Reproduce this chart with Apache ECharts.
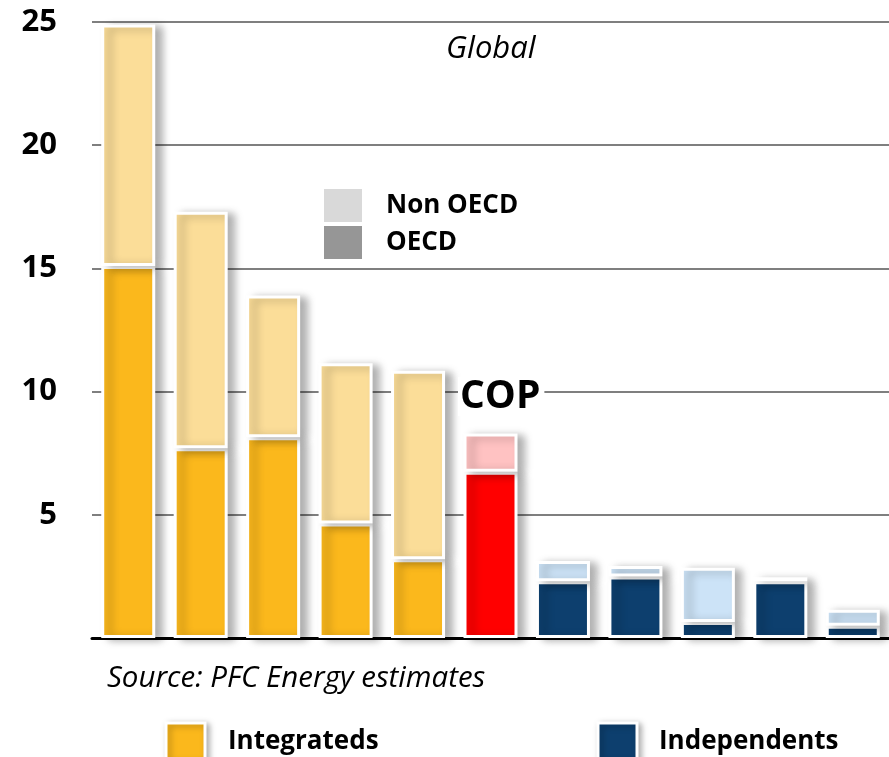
<!DOCTYPE html>
<html>
<head>
<meta charset="utf-8">
<script src="https://cdn.jsdelivr.net/npm/echarts@6/dist/echarts.min.js"></script>
<style>
  html, body { margin: 0; padding: 0; background: #fff; }
  #chart { width: 889px; height: 757px; }
</style>
</head>
<body>
<div id="chart"></div>
<script>
// companies, left to right (unnamed in the source picture)
var categories = ['1', '2', '3', '4', '5', 'COP', '7', '8', '9', '10', '11']
var groups = ['int', 'int', 'int', 'int', 'int', 'cop', 'ind', 'ind', 'ind', 'ind', 'ind']
var oecdValues = [15.1, 7.7, 8.15, 4.65, 3.2, 6.75, 2.3, 2.5, 0.65, 2.3, 0.5]
var nonOecdValues = [9.8, 9.6, 5.75, 6.5, 7.65, 1.55, 0.82, 0.42, 2.2, 0.17, 0.65]
var yTicks = [0, 5, 10, 15, 20, 25]

var darkColors = { int: '#fbb81c', cop: '#ff0000', ind: '#0d3f6e' }
var lightColors = { int: '#fbdd98', cop: '#ffc2c2', ind: '#cce3f7' }

var font = '"Open Sans", Lato, sans-serif'

var chart = echarts.init(document.getElementById('chart'))

function barStyle (color) {
  return {
    color: color,
    borderColor: '#fff',
    borderWidth: 3,
    shadowColor: 'rgba(0,0,0,0.3)',
    shadowBlur: 8,
    shadowOffsetX: 7,
    shadowOffsetY: 2
  }
}

function boxStyle (color) {
  return {
    fill: color,
    stroke: '#fff',
    lineWidth: 3,
    shadowColor: 'rgba(0,0,0,0.3)',
    shadowBlur: 6,
    shadowOffsetX: 3,
    shadowOffsetY: 2
  }
}

chart.setOption({
  animation: false,
  textStyle: { fontFamily: font },
  grid: {
    left: 92,
    right: 0,
    top: 22,
    bottom: 119
  },
  legend: {
    orient: 'vertical',
    left: 317,
    top: 182,
    itemWidth: 40,
    itemHeight: 35,
    itemGap: 0,
    icon: 'rect',
    textStyle: { fontFamily: font, fontWeight: 'bold', fontSize: 26, color: '#000', padding: [0, 0, 0, 18] },
    data: [
      { name: 'Non OECD', itemStyle: { color: '#d9d9d9', borderColor: '#fff', borderWidth: 2 } },
      { name: 'OECD', itemStyle: { color: '#969696', borderColor: '#fff', borderWidth: 2 } }
    ]
  },
  xAxis: {
    type: 'category',
    data: categories,
    axisLine: { lineStyle: { color: '#000', width: 3 } },
    axisTick: { show: false },
    axisLabel: { show: false }
  },
  yAxis: {
    type: 'value',
    min: yTicks[0],
    max: yTicks[yTicks.length - 1],
    interval: 5,
    axisLine: { show: false },
    axisTick: { show: false },
    axisLabel: {
      showMinLabel: false,
      margin: 35,
      fontFamily: font,
      fontWeight: 'bold',
      fontSize: 31,
      color: '#000'
    },
    splitLine: { lineStyle: { color: '#7f7f7f', width: 2 } }
  },
  graphic: [
    {
      type: 'text',
      left: 446,
      top: 34,
      style: { text: 'Global', font: 'italic 31px ' + font, fill: '#000' }
    },
    {
      type: 'text',
      left: 458,
      top: 377,
      z: 100,
      style: {
        text: 'COP',
        font: 'bold 39px ' + font,
        fill: '#000',
        backgroundColor: '#fff',
        padding: [0, 4, 0, 2]
      }
    },
    {
      type: 'text',
      left: 107,
      top: 664,
      style: { text: 'Source: PFC Energy estimates', font: 'italic 29.5px ' + font, fill: '#000' }
    },
    {
      type: 'rect',
      shape: { x: 166, y: 723, width: 39, height: 38 },
      style: boxStyle(darkColors.int)
    },
    {
      type: 'text',
      left: 228,
      top: 729,
      style: { text: 'Integrateds', font: 'bold 26px ' + font, fill: '#000' }
    },
    {
      type: 'rect',
      shape: { x: 598, y: 723, width: 39, height: 38 },
      style: boxStyle(darkColors.ind)
    },
    {
      type: 'text',
      left: 659,
      top: 729,
      style: { text: 'Independents', font: 'bold 26px ' + font, fill: '#000' }
    }
  ],
  series: [
    {
      name: 'OECD',
      type: 'bar',
      stack: 'total',
      barWidth: 54,
      itemStyle: barStyle('#969696'),
      data: oecdValues.map(function (v, i) {
        return { value: v, itemStyle: { color: darkColors[groups[i]] } }
      })
    },
    {
      name: 'Non OECD',
      type: 'bar',
      stack: 'total',
      barWidth: 54,
      itemStyle: barStyle('#d9d9d9'),
      data: nonOecdValues.map(function (v, i) {
        return { value: v, itemStyle: { color: lightColors[groups[i]] } }
      })
    }
  ]
})
</script>
</body>
</html>
